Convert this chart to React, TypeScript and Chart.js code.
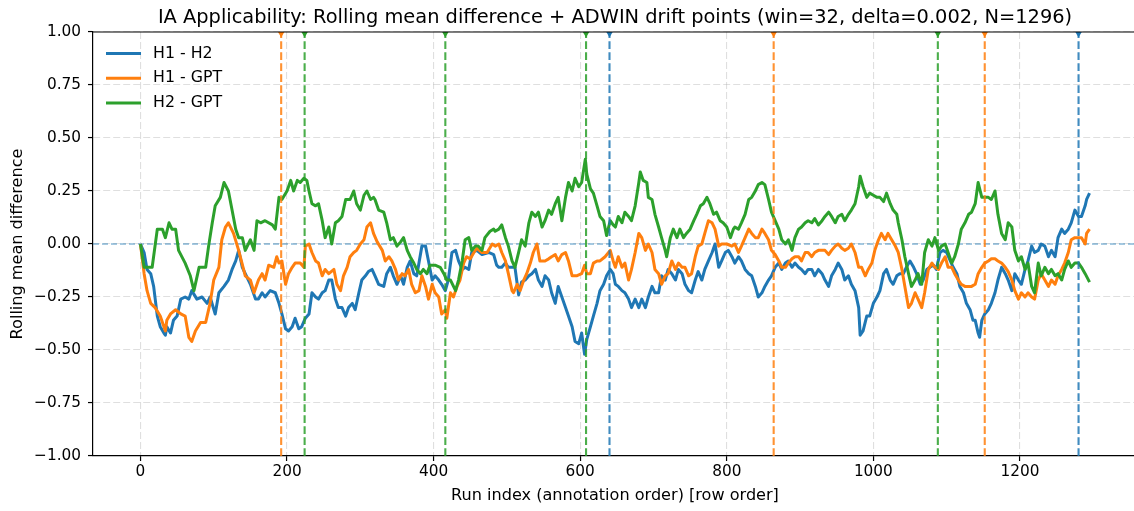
import React, { useEffect, useRef } from "react";
import { Chart, registerables } from "chart.js";

Chart.register(...registerables);

const TITLE =
  "IA Applicability: Rolling mean difference + ADWIN drift points (win=32, delta=0.002, N=1296)";
const X_LABEL = "Run index (annotation order) [row order]";
const Y_LABEL = "Rolling mean difference";
const SERIES_NAMES = ["H1 - H2", "H1 - GPT", "H2 - GPT"];
const SERIES_COLORS = ["#1f77b4", "#ff7f0e", "#2ca02c"];
const X_TICKS = [0, 200, 400, 600, 800, 1000, 1200];
const Y_TICKS = [-1, -0.75, -0.5, -0.25, 0, 0.25, 0.5, 0.75, 1];
const X_MIN = -64.75;
const X_MAX = 1359.75;
const Y_MIN = -1;
const Y_MAX = 1;

// ADWIN drift points per series
const DRIFT_H1_H2 = [640, 1280];
const DRIFT_H1_GPT = [192, 864, 1152];
const DRIFT_H2_GPT = [224, 416, 608, 1088];

// [run index, rolling mean difference]
const H1_H2: [number, number][] = [
  [0,0],[5,-0.04],[9,-0.12],[14,-0.14],[18,-0.2],[23,-0.34],[27,-0.39],[32,-0.42],[34,-0.43],[36,-0.39],[41,-0.42],[45,-0.36],[50,-0.34],[55,-0.26],[61,-0.25],[66,-0.26],[70,-0.22],[77,-0.26],[84,-0.25],[91,-0.28],[95,-0.25],[102,-0.33],[107,-0.23],[114,-0.2],[120,-0.17],[125,-0.12],[130,-0.08],[134,-0.03],[139,-0.11],[143,-0.14],[150,-0.19],[157,-0.26],[161,-0.26],[166,-0.23],[170,-0.25],[177,-0.22],[184,-0.23],[189,-0.28],[193,-0.33],[198,-0.4],[202,-0.41],[207,-0.39],[211,-0.35],[216,-0.4],[220,-0.39],[225,-0.35],[230,-0.33],[234,-0.23],[239,-0.25],[243,-0.26],[248,-0.23],[252,-0.22],[257,-0.17],[261,-0.17],[266,-0.26],[270,-0.3],[275,-0.3],[280,-0.34],[284,-0.3],[289,-0.28],[293,-0.31],[298,-0.23],[302,-0.17],[307,-0.15],[311,-0.13],[316,-0.12],[320,-0.15],[325,-0.19],[332,-0.2],[336,-0.14],[341,-0.11],[345,-0.15],[350,-0.19],[355,-0.15],[359,-0.19],[364,-0.11],[368,-0.08],[373,-0.14],[377,-0.15],[384,-0.01],[389,-0.01],[393,-0.08],[398,-0.17],[402,-0.15],[407,-0.17],[411,-0.19],[416,-0.22],[420,-0.17],[425,-0.04],[430,-0.03],[434,-0.08],[439,-0.12],[443,-0.11],[448,-0.12],[452,-0.04],[459,-0.03],[466,-0.05],[475,-0.04],[482,-0.05],[486,-0.1],[489,-0.11],[493,-0.11],[498,-0.09],[502,-0.11],[507,-0.11],[511,-0.11],[516,-0.24],[520,-0.18],[525,-0.17],[530,-0.15],[534,-0.14],[539,-0.12],[543,-0.17],[548,-0.2],[552,-0.15],[557,-0.17],[561,-0.23],[566,-0.28],[570,-0.2],[575,-0.25],[580,-0.3],[584,-0.34],[589,-0.39],[593,-0.46],[598,-0.47],[602,-0.42],[606,-0.52],[609,-0.45],[614,-0.39],[618,-0.34],[623,-0.28],[627,-0.22],[632,-0.19],[636,-0.15],[641,-0.12],[645,-0.14],[648,-0.19],[652,-0.2],[657,-0.22],[661,-0.23],[666,-0.26],[670,-0.3],[675,-0.26],[680,-0.3],[684,-0.26],[689,-0.3],[693,-0.25],[698,-0.2],[702,-0.23],[707,-0.23],[711,-0.15],[716,-0.17],[720,-0.12],[725,-0.14],[730,-0.17],[734,-0.12],[739,-0.14],[743,-0.19],[748,-0.22],[752,-0.23],[757,-0.17],[761,-0.13],[766,-0.17],[770,-0.12],[775,-0.08],[780,-0.04],[784,0],[789,-0.11],[793,-0.08],[798,-0.04],[802,-0.03],[807,-0.06],[811,-0.09],[816,-0.06],[820,-0.08],[825,-0.12],[830,-0.14],[834,-0.15],[839,-0.2],[843,-0.25],[848,-0.23],[852,-0.2],[857,-0.17],[861,-0.15],[866,-0.11],[871,-0.09],[875,-0.12],[880,-0.09],[884,-0.08],[889,-0.11],[893,-0.09],[898,-0.11],[902,-0.12],[907,-0.14],[911,-0.12],[916,-0.12],[920,-0.15],[925,-0.12],[930,-0.14],[934,-0.17],[939,-0.2],[943,-0.15],[948,-0.12],[952,-0.09],[957,-0.12],[961,-0.17],[966,-0.15],[970,-0.19],[975,-0.22],[980,-0.3],[982,-0.43],[986,-0.41],[991,-0.34],[995,-0.34],[1000,-0.28],[1005,-0.25],[1009,-0.22],[1014,-0.14],[1018,-0.12],[1023,-0.17],[1027,-0.19],[1032,-0.15],[1036,-0.14],[1041,-0.14],[1045,-0.11],[1050,-0.08],[1055,-0.11],[1059,-0.14],[1064,-0.19],[1068,-0.17],[1073,-0.12],[1077,-0.11],[1082,-0.1],[1086,-0.12],[1091,-0.04],[1095,-0.03],[1100,-0.04],[1105,-0.08],[1109,-0.11],[1114,-0.14],[1118,-0.2],[1123,-0.23],[1127,-0.28],[1132,-0.31],[1136,-0.36],[1139,-0.36],[1143,-0.42],[1145,-0.44],[1148,-0.36],[1152,-0.33],[1157,-0.31],[1161,-0.28],[1166,-0.23],[1170,-0.17],[1175,-0.11],[1180,-0.14],[1184,-0.17],[1189,-0.22],[1193,-0.14],[1198,-0.17],[1202,-0.19],[1207,-0.12],[1211,-0.08],[1216,-0.01],[1220,-0.04],[1225,-0.03],[1229,0],[1234,-0.01],[1239,-0.06],[1243,-0.03],[1248,-0.06],[1252,0.03],[1257,0.07],[1261,0.05],[1266,0.07],[1270,0.1],[1275,0.16],[1280,0.13],[1284,0.13],[1289,0.18],[1291,0.21],[1295,0.24],
];

const H1_GPT: [number, number][] = [
  [0,0],[5,-0.14],[9,-0.22],[14,-0.28],[20,-0.3],[27,-0.34],[32,-0.39],[34,-0.41],[36,-0.36],[41,-0.33],[48,-0.31],[55,-0.33],[61,-0.34],[66,-0.44],[70,-0.46],[75,-0.41],[82,-0.37],[89,-0.37],[95,-0.28],[100,-0.17],[107,-0.11],[111,0.02],[116,0.08],[120,0.1],[127,0.05],[134,-0.03],[143,-0.15],[150,-0.17],[155,-0.23],[161,-0.17],[166,-0.14],[170,-0.17],[175,-0.1],[182,-0.11],[186,-0.06],[189,-0.09],[193,-0.08],[198,-0.19],[202,-0.14],[207,-0.11],[211,-0.09],[218,-0.09],[223,-0.11],[225,-0.01],[230,0],[234,-0.04],[239,-0.08],[243,-0.09],[248,-0.15],[252,-0.12],[257,-0.14],[264,-0.12],[268,-0.19],[273,-0.22],[277,-0.15],[282,-0.11],[286,-0.06],[291,-0.04],[295,-0.03],[300,0],[305,0.02],[309,0.08],[314,0.1],[318,0.05],[323,0.01],[330,-0.03],[334,-0.08],[339,-0.06],[343,-0.08],[348,-0.12],[352,-0.17],[357,-0.14],[361,-0.15],[366,-0.12],[370,-0.19],[375,-0.23],[380,-0.22],[384,-0.15],[389,-0.2],[393,-0.26],[398,-0.19],[402,-0.23],[407,-0.25],[411,-0.33],[416,-0.31],[418,-0.35],[423,-0.23],[427,-0.25],[432,-0.2],[436,-0.17],[441,-0.09],[445,-0.06],[450,-0.07],[455,-0.04],[459,-0.02],[466,-0.04],[473,-0.04],[480,0],[484,-0.01],[489,0],[493,-0.04],[498,-0.08],[502,-0.14],[507,-0.22],[509,-0.23],[514,-0.19],[518,-0.22],[523,-0.17],[527,-0.14],[532,-0.09],[536,-0.04],[541,0],[545,-0.08],[552,-0.08],[557,-0.07],[561,-0.06],[566,-0.05],[570,-0.08],[575,-0.05],[580,-0.04],[584,-0.08],[589,-0.15],[595,-0.15],[602,-0.14],[606,-0.1],[609,-0.14],[614,-0.14],[618,-0.09],[623,-0.08],[627,-0.08],[634,-0.06],[641,-0.03],[645,-0.08],[648,-0.11],[652,-0.06],[657,-0.11],[661,-0.09],[666,-0.17],[670,-0.12],[675,-0.04],[680,0.05],[684,0.03],[689,-0.03],[693,0],[698,-0.04],[702,-0.12],[707,-0.14],[711,-0.19],[716,-0.15],[720,-0.14],[725,-0.08],[730,-0.12],[734,-0.09],[739,-0.11],[743,-0.11],[748,-0.15],[752,-0.14],[757,-0.06],[761,-0.01],[766,0],[770,0.05],[775,0.11],[780,0.1],[784,0.07],[789,-0.01],[793,0],[800,0],[807,-0.01],[811,0],[816,-0.04],[820,-0.01],[825,0.03],[830,0.07],[834,0.05],[839,0.03],[843,0.03],[848,0.07],[852,0.05],[857,0.02],[861,-0.03],[866,-0.05],[871,-0.08],[875,-0.11],[880,-0.11],[884,-0.09],[889,-0.07],[893,-0.06],[898,-0.06],[902,-0.08],[907,-0.04],[911,-0.04],[916,-0.06],[920,-0.04],[925,-0.03],[930,-0.03],[934,-0.03],[939,-0.05],[943,-0.03],[948,-0.01],[952,0],[957,-0.02],[961,-0.03],[966,-0.02],[970,0],[975,-0.04],[980,-0.11],[984,-0.11],[989,-0.15],[993,-0.12],[998,-0.09],[1002,-0.03],[1007,0.02],[1011,0.05],[1016,0.02],[1020,0.05],[1025,0.02],[1030,-0.01],[1034,-0.04],[1039,-0.12],[1043,-0.2],[1048,-0.3],[1052,-0.28],[1057,-0.23],[1061,-0.26],[1066,-0.3],[1070,-0.23],[1075,-0.12],[1080,-0.09],[1084,-0.11],[1089,-0.12],[1093,-0.09],[1098,-0.06],[1102,-0.11],[1107,-0.11],[1111,-0.14],[1116,-0.17],[1120,-0.19],[1125,-0.2],[1130,-0.2],[1134,-0.2],[1139,-0.19],[1143,-0.14],[1148,-0.11],[1152,-0.09],[1157,-0.08],[1161,-0.07],[1166,-0.07],[1170,-0.08],[1175,-0.09],[1180,-0.11],[1184,-0.13],[1189,-0.17],[1193,-0.22],[1198,-0.26],[1202,-0.23],[1207,-0.25],[1211,-0.23],[1216,-0.25],[1220,-0.26],[1225,-0.17],[1229,-0.14],[1234,-0.17],[1239,-0.2],[1243,-0.17],[1248,-0.19],[1252,-0.15],[1257,-0.12],[1261,-0.09],[1266,-0.04],[1270,0.02],[1275,0.03],[1280,0.03],[1284,0.03],[1289,0],[1291,0.05],[1295,0.07],
];

const H2_GPT: [number, number][] = [
  [0,0],[5,-0.11],[16,-0.11],[23,0.07],[30,0.07],[34,0.03],[39,0.1],[43,0.07],[48,0.07],[52,-0.03],[61,-0.09],[68,-0.15],[73,-0.22],[80,-0.11],[89,-0.11],[93,-0.01],[98,0.1],[102,0.18],[109,0.22],[114,0.29],[120,0.25],[125,0.16],[130,0.07],[134,0.03],[139,0.03],[143,-0.03],[150,0.02],[155,-0.03],[159,0.11],[164,0.1],[170,0.11],[180,0.09],[184,0.07],[189,0.22],[193,0.21],[200,0.25],[205,0.3],[209,0.25],[214,0.3],[218,0.29],[223,0.31],[227,0.3],[230,0.25],[234,0.19],[239,0.18],[243,0.19],[248,0.11],[252,0.03],[257,0.08],[261,0],[266,0.1],[270,0.11],[275,0.13],[280,0.21],[286,0.21],[291,0.25],[295,0.19],[300,0.16],[305,0.23],[309,0.25],[314,0.21],[318,0.22],[320,0.21],[325,0.16],[332,0.15],[336,0.1],[341,0.02],[345,0.03],[350,-0.01],[355,0.01],[359,0.03],[364,-0.03],[368,-0.06],[373,-0.09],[377,-0.12],[382,-0.14],[386,-0.12],[391,-0.14],[395,-0.1],[402,-0.1],[409,-0.11],[414,-0.14],[418,-0.17],[423,-0.17],[430,-0.22],[434,-0.17],[439,-0.08],[443,0.02],[448,0.03],[452,-0.03],[457,-0.01],[461,-0.01],[466,-0.03],[470,0.03],[477,0.06],[482,0.07],[484,0.06],[489,0.07],[493,0.09],[498,0.03],[502,-0.01],[507,-0.08],[511,-0.11],[516,-0.04],[520,0.02],[525,-0.01],[530,0.1],[534,0.15],[539,0.13],[543,0.15],[548,0.08],[552,0.11],[557,0.16],[561,0.14],[566,0.19],[570,0.22],[575,0.11],[580,0.22],[584,0.29],[589,0.25],[593,0.31],[598,0.27],[602,0.29],[607,0.4],[609,0.33],[614,0.26],[618,0.24],[623,0.18],[627,0.13],[632,0.11],[636,0.04],[641,0.11],[645,0.09],[648,0.08],[652,0.13],[657,0.1],[661,0.15],[666,0.13],[670,0.11],[675,0.18],[680,0.29],[682,0.34],[686,0.3],[691,0.29],[693,0.22],[698,0.21],[702,0.14],[707,0.08],[711,0.03],[716,-0.03],[718,-0.06],[723,0.03],[727,0.07],[732,0.03],[736,0.07],[741,0.03],[745,0.05],[750,0.07],[755,0.11],[759,0.14],[764,0.18],[768,0.19],[773,0.22],[777,0.19],[782,0.14],[786,0.15],[791,0.11],[795,0.1],[800,0.08],[805,0.03],[809,0.07],[811,0.08],[816,0.07],[820,0.1],[825,0.14],[830,0.21],[834,0.22],[839,0.25],[843,0.28],[848,0.29],[852,0.28],[857,0.21],[861,0.15],[866,0.11],[871,0.07],[875,0.02],[880,0],[884,0.02],[889,-0.03],[893,0.03],[898,0.07],[902,0.08],[907,0.1],[911,0.11],[916,0.1],[920,0.12],[925,0.09],[930,0.11],[934,0.13],[939,0.15],[943,0.13],[948,0.1],[952,0.13],[957,0.14],[961,0.11],[966,0.14],[970,0.16],[975,0.19],[980,0.27],[982,0.32],[986,0.27],[991,0.22],[995,0.24],[1000,0.23],[1005,0.22],[1009,0.22],[1014,0.2],[1018,0.24],[1023,0.19],[1027,0.16],[1032,0.14],[1034,0.1],[1039,0.02],[1043,-0.06],[1048,-0.14],[1052,-0.2],[1057,-0.17],[1061,-0.14],[1066,-0.19],[1070,-0.04],[1075,0.02],[1080,-0.01],[1084,0.03],[1089,-0.03],[1093,-0.01],[1098,0],[1102,-0.04],[1107,-0.09],[1111,-0.06],[1116,0],[1120,0.07],[1125,0.1],[1130,0.14],[1134,0.15],[1139,0.19],[1143,0.29],[1148,0.22],[1152,0.22],[1157,0.22],[1161,0.21],[1166,0.25],[1170,0.14],[1175,0.05],[1180,0.02],[1184,0.1],[1189,0.08],[1193,-0.03],[1198,-0.08],[1202,-0.06],[1207,-0.12],[1211,-0.09],[1216,-0.2],[1220,-0.23],[1225,-0.09],[1229,-0.15],[1234,-0.11],[1239,-0.14],[1243,-0.12],[1248,-0.15],[1252,-0.14],[1257,-0.17],[1261,-0.12],[1266,-0.08],[1270,-0.11],[1275,-0.09],[1280,-0.09],[1284,-0.11],[1289,-0.14],[1295,-0.18],
];

const SERIES_DATA = [H1_H2, H1_GPT, H2_GPT];
const DRIFTS = [DRIFT_H1_H2, DRIFT_H1_GPT, DRIFT_H2_GPT];

const FONT = "DejaVu Sans";

function withAlpha(hex: string, a: number) {
  const r = parseInt(hex.slice(1, 3), 16);
  const g = parseInt(hex.slice(3, 5), 16);
  const b = parseInt(hex.slice(5, 7), 16);
  return `rgba(${r},${g},${b},${a})`;
}

const decorPlugin = {
  id: "decor",
  afterDraw(chart: any) {
    const { ctx, chartArea } = chart;
    const { left, right, top } = chartArea;
    ctx.save();
    // top spine
    ctx.strokeStyle = "#000";
    ctx.lineWidth = 1.2;
    ctx.beginPath();
    ctx.moveTo(left, top);
    ctx.lineTo(right, top);
    ctx.stroke();
    // title
    ctx.fillStyle = "#000";
    ctx.font = `19.4px "${FONT}"`;
    ctx.textAlign = "center";
    ctx.textBaseline = "alphabetic";
    ctx.fillText(TITLE, (left + right) / 2, 23);
    // legend
    ctx.font = `15.8px "${FONT}"`;
    ctx.textAlign = "left";
    ctx.textBaseline = "middle";
    SERIES_NAMES.forEach((name, i) => {
      const y = top + 21.5 + i * 24.7;
      ctx.strokeStyle = SERIES_COLORS[i];
      ctx.lineWidth = 3;
      ctx.beginPath();
      ctx.moveTo(left + 13, y);
      ctx.lineTo(left + 48, y);
      ctx.stroke();
      ctx.fillStyle = "#000";
      ctx.fillText(name, left + 60, y);
    });
    ctx.restore();
  },
};

export default function App() {
  const ref = useRef<HTMLCanvasElement>(null);
  useEffect(() => {
    document.body.style.margin = "0";
    const canvas = ref.current;
    if (!canvas) return;

    const seriesSets = SERIES_DATA.map((arr, i) => ({
      type: "line",
      label: SERIES_NAMES[i],
      data: arr.map(([x, y]) => ({ x, y })),
      borderColor: SERIES_COLORS[i],
      borderWidth: 3,
      pointRadius: 0,
      tension: 0,
      borderJoinStyle: "round",
      order: 9 - i,
    }));

    const zeroSet = {
      type: "line",
      label: "zero",
      data: [
        { x: X_MIN, y: 0 },
        { x: X_MAX, y: 0 },
      ],
      borderColor: "rgba(31,119,180,0.4)",
      borderWidth: 1.8,
      borderDash: [6, 3],
      pointRadius: 0,
      order: 20,
    };

    const driftSets = DRIFTS.map((xs, i) => ({
      type: "line",
      label: "drift " + SERIES_NAMES[i],
      data: xs.flatMap((x) => [
        { x, y: Y_MIN },
        { x, y: Y_MAX },
        { x, y: null },
      ]),
      borderColor: withAlpha(SERIES_COLORS[i], 0.85),
      borderWidth: 2.1,
      borderDash: [7.7, 3.3],
      spanGaps: false,
      pointStyle: "triangle",
      rotation: 180,
      pointRadius: (c: any) => (c.raw && c.raw.y === Y_MAX ? 5.5 : 0),
      pointBackgroundColor: SERIES_COLORS[i],
      pointBorderWidth: 0,
      clip: 0,
      order: 3 - i,
    }));

    const tickFont = { family: FONT, size: 15.3 };
    const labelFont = { family: FONT, size: 16.1 };
    const gridColor = "rgba(176,176,176,0.4)";

    const chart = new Chart(canvas, {
      type: "line",
      data: { datasets: [zeroSet, ...seriesSets, ...driftSets] as any },
      options: {
        animation: false,
        responsive: false,
        devicePixelRatio: 1,
        events: [],
        layout: { padding: { top: 32, left: 0, right: 3, bottom: 0 } },
        plugins: {
          legend: { display: false },
          title: { display: false },
          tooltip: { enabled: false },
        },
        scales: {
          x: {
            type: "linear",
            min: X_MIN,
            max: X_MAX,
            afterBuildTicks: (s: any) => {
              s.ticks = X_TICKS.map((v) => ({ value: v }));
            },
            afterFit: (s: any) => {
              s.height = 55;
            },
            ticks: {
              font: tickFont,
              color: "#000",
              padding: 2,
              maxRotation: 0,
              autoSkip: false,
              callback: (v: any) => String(v),
            },
            grid: {
              color: gridColor,
              lineWidth: 1.1,
              drawTicks: true,
              tickLength: 5,
              tickColor: "#000",
              tickWidth: 1.2,
              tickBorderDash: [],
            },
            border: { display: true, color: "#000", width: 1.2, dash: [7, 3] },
            title: {
              display: true,
              text: X_LABEL,
              font: labelFont,
              color: "#000",
              padding: { top: 0, bottom: 6 },
            },
          },
          y: {
            type: "linear",
            min: Y_MIN,
            max: Y_MAX,
            afterBuildTicks: (s: any) => {
              s.ticks = Y_TICKS.map((v) => ({ value: v }));
            },
            afterFit: (s: any) => {
              s.width = 93;
            },
            ticks: {
              font: tickFont,
              color: "#000",
              padding: 7,
              autoSkip: false,
              callback: (v: any) => Number(v).toFixed(2).replace("-", "\u2212"),
            },
            grid: {
              color: gridColor,
              lineWidth: 1.1,
              drawTicks: true,
              tickLength: 5,
              tickColor: "#000",
              tickWidth: 1.2,
              tickBorderDash: [],
            },
            border: { display: true, color: "#000", width: 1.2, dash: [7, 3] },
            title: {
              display: true,
              text: Y_LABEL,
              font: labelFont,
              color: "#000",
              padding: { top: 8, bottom: 0 },
            },
          },
        },
      } as any,
      plugins: [decorPlugin],
    });
    return () => chart.destroy();
  }, []);

  return (
    <div style={{ width: 1134, height: 511, overflow: "hidden", position: "relative" }}>
      <canvas ref={ref} width={1140} height={511} style={{ display: "block" }} />
    </div>
  );
}
